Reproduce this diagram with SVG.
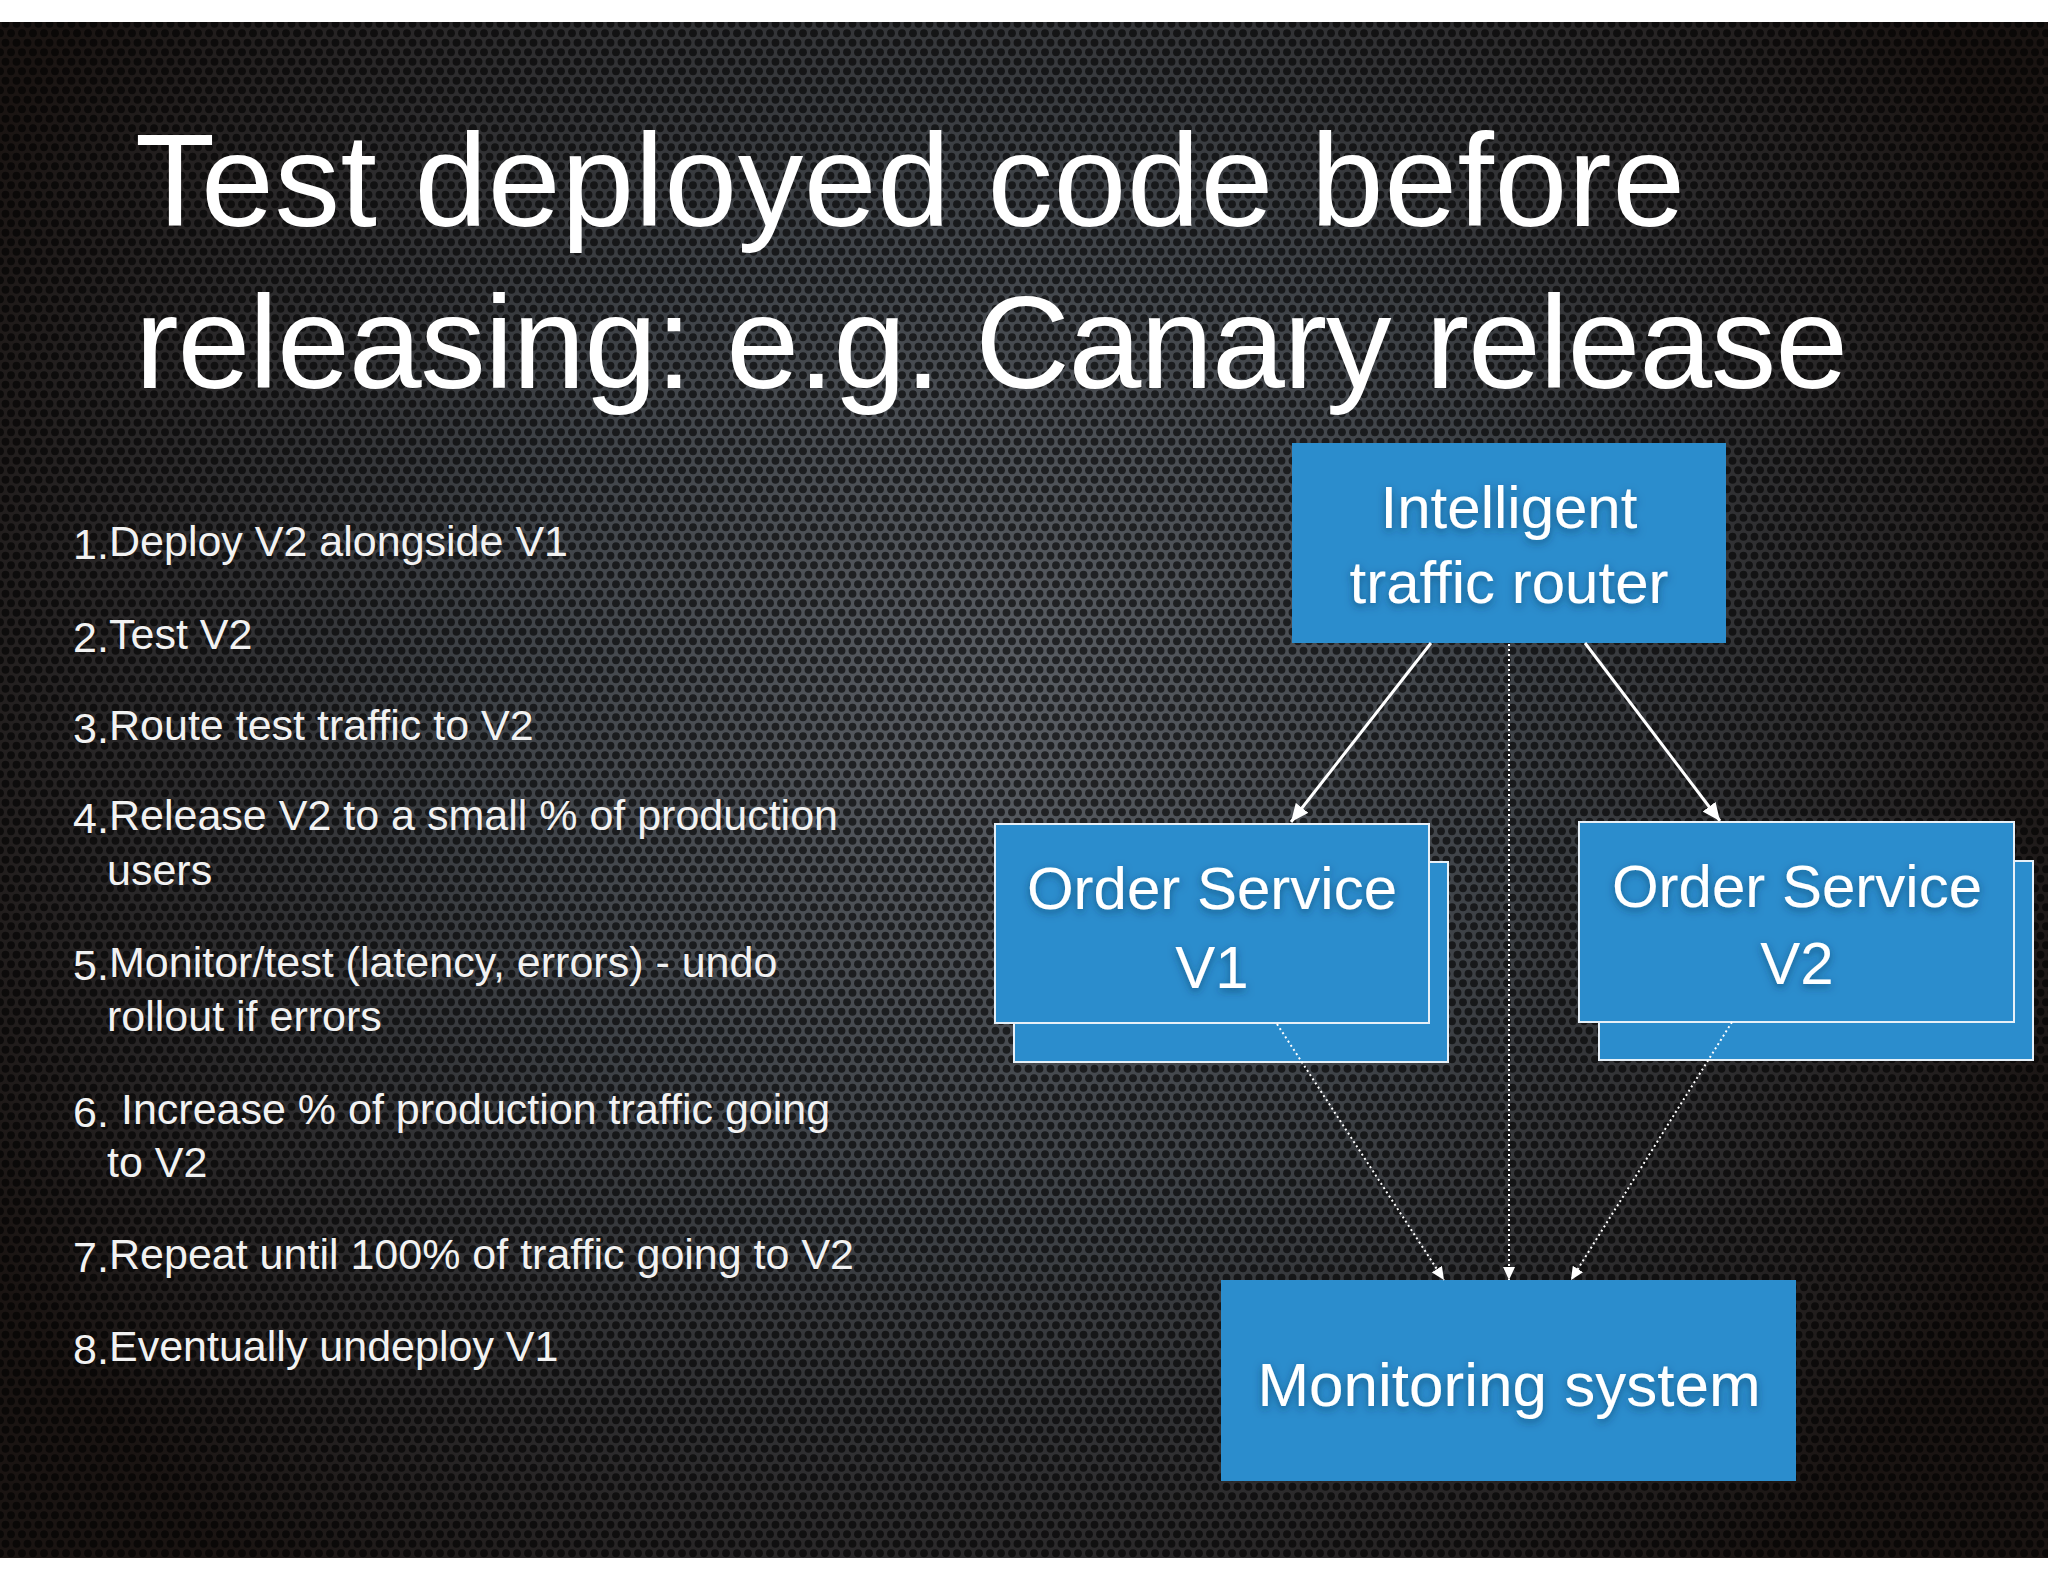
<svg xmlns="http://www.w3.org/2000/svg" width="2048" height="1582" viewBox="0 0 2048 1582">
  <defs>
    <radialGradient id="bgGrad" cx="1000" cy="700" r="1150" gradientUnits="userSpaceOnUse">
      <stop offset="0" stop-color="#5a5e64"/>
      <stop offset="0.45" stop-color="#3e4247"/>
      <stop offset="1" stop-color="#1a1412"/>
    </radialGradient>
    <pattern id="mesh" width="11" height="19" patternUnits="userSpaceOnUse">
      <circle cx="5.5" cy="4.75" r="3.9" fill="#000" fill-opacity="0.62"/>
      <circle cx="0" cy="14.25" r="3.9" fill="#000" fill-opacity="0.62"/>
      <circle cx="11" cy="14.25" r="3.9" fill="#000" fill-opacity="0.62"/>
    </pattern>
    <filter id="tshadow" x="-10%" y="-30%" width="120%" height="160%">
      <feDropShadow dx="0" dy="3" stdDeviation="4" flood-color="#0a3050" flood-opacity="0.55"/>
    </filter>
    <marker id="arrowSolid" markerUnits="userSpaceOnUse" markerWidth="20" markerHeight="16" refX="18" refY="8" orient="auto">
      <path d="M0,0 L18,8 L0,16 Z" fill="#ffffff"/>
    </marker>
    <marker id="arrowDot" markerUnits="userSpaceOnUse" markerWidth="14" markerHeight="12" refX="13" refY="6" orient="auto">
      <path d="M0,0 L13,6 L0,12 Z" fill="#ffffff"/>
    </marker>
  </defs>
  <style>
    .title { font-family: "Liberation Sans", Arial, sans-serif; font-size: 131px; fill: #ffffff; }
    .item { font-family: "Liberation Sans", Arial, sans-serif; font-size: 43px; fill: #f2f2f2; }
    .box { fill: #2b8dcd; }
    .boxs { fill: #2b8dcd; stroke: #e6f0f8; stroke-width: 2; }
    .label { font-family: "Liberation Sans", Arial, sans-serif; font-size: 60px; fill: #ffffff; text-anchor: middle; filter: url(#tshadow); }
    .solid { stroke: #ffffff; stroke-width: 3; fill: none; marker-end: url(#arrowSolid); }
    .dotted { stroke: #ffffff; stroke-width: 2; stroke-dasharray: 2 3; fill: none; marker-end: url(#arrowDot); }
  </style>

  <rect x="0" y="0" width="2048" height="1582" fill="#ffffff"/>
  <rect x="0" y="22" width="2048" height="1536" fill="url(#bgGrad)"/>
  <rect x="0" y="22" width="2048" height="1536" fill="url(#mesh)"/>

  <g id="title">
    <text class="title" x="135" y="226" textLength="1550" lengthAdjust="spacing">Test deployed code before</text>
    <text class="title" x="135" y="388" textLength="1713" lengthAdjust="spacing">releasing: e.g. Canary release</text>
  </g>

  <g id="steps">
    <text class="item" x="73" y="559">1.</text><text class="item" x="109" y="556">Deploy V2 alongside V1</text>
    <text class="item" x="73" y="652">2.</text><text class="item" x="109" y="649">Test V2</text>
    <text class="item" x="73" y="743">3.</text><text class="item" x="109" y="740">Route test traffic to V2</text>
    <text class="item" x="73" y="833">4.</text><text class="item" x="109" y="830">Release V2 to a small % of production</text>
    <text class="item" x="107" y="885">users</text>
    <text class="item" x="73" y="980">5.</text><text class="item" x="109" y="977">Monitor/test (latency, errors) - undo</text>
    <text class="item" x="107" y="1031">rollout if errors</text>
    <text class="item" x="73" y="1127">6.</text><text class="item" x="121" y="1124">Increase % of production traffic going</text>
    <text class="item" x="107" y="1177">to V2</text>
    <text class="item" x="73" y="1272">7.</text><text class="item" x="109" y="1269">Repeat until 100% of traffic going to V2</text>
    <text class="item" x="73" y="1364">8.</text><text class="item" x="109" y="1361">Eventually undeploy V1</text>
  </g>

  <g id="router">
    <rect class="box" x="1292" y="443" width="434" height="200"/>
    <text class="label" x="1509" y="528">Intelligent</text>
    <text class="label" x="1509" y="603">traffic router</text>
  </g>

  <g id="order-v1">
    <rect class="boxs" x="1014" y="862" width="434" height="200"/>
    <rect class="boxs" x="995" y="824" width="434" height="199"/>
    <text class="label" x="1212" y="909">Order Service</text>
    <text class="label" x="1212" y="988">V1</text>
  </g>

  <g id="order-v2">
    <rect class="boxs" x="1599" y="861" width="434" height="199"/>
    <rect class="boxs" x="1579" y="822" width="435" height="200"/>
    <text class="label" x="1797" y="907">Order Service</text>
    <text class="label" x="1797" y="984">V2</text>
  </g>

  <g id="monitoring">
    <rect class="box" x="1221" y="1280" width="575" height="201"/>
    <text class="label" x="1509" y="1406" style="font-size:62px">Monitoring system</text>
  </g>

  <g id="connectors">
    <line class="solid" x1="1431" y1="643" x2="1291" y2="822"/>
    <line class="solid" x1="1585" y1="643" x2="1720" y2="821"/>
    <line class="dotted" x1="1509" y1="644" x2="1509" y2="1280"/>
    <line class="dotted" x1="1277" y1="1024" x2="1444" y2="1280"/>
    <line class="dotted" x1="1732" y1="1022" x2="1571" y2="1280"/>
  </g>
</svg>
